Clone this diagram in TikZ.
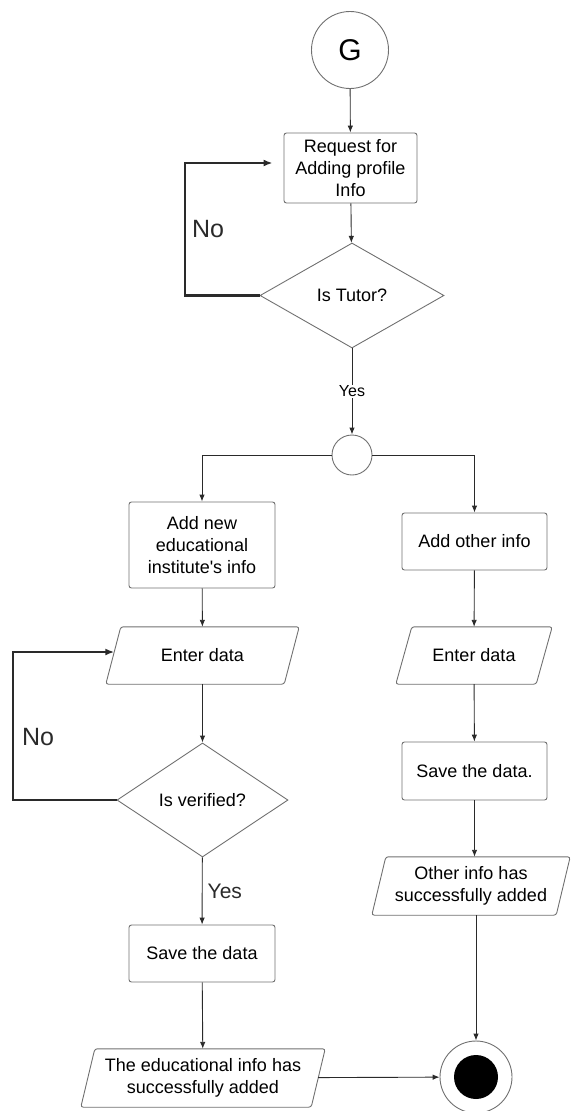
\documentclass[tikz,border=0pt]{standalone}
\usepackage{fontspec}
\setmainfont{Liberation Sans}
\usetikzlibrary{shapes.geometric,arrows.meta,calc}

\definecolor{outline}{HTML}{707070}
\definecolor{wire}{HTML}{2A2A2A}

\tikzset{
  shapeline/.style={draw=outline, line width=0.9pt},
  bodytext/.style={font=\fontsize{18}{21.7}\selectfont, align=center},
  procbox/.style={shapeline, bodytext, rectangle, rounded corners=2.5pt, inner sep=0pt},
  iobox/.style={bodytext, rectangle, inner sep=0pt},
  decision/.style={shapeline, bodytext, diamond, inner sep=0pt},
  startnode/.style={shapeline, circle, minimum size=77pt, inner sep=0pt, font=\fontsize{30}{30}\selectfont},
  junction/.style={shapeline, circle, minimum size=40pt, inner sep=0pt},
  endring/.style={shapeline, circle, minimum size=72pt, inner sep=0pt},
  enddot/.style={circle, fill=black, minimum size=44pt, inner sep=0pt},
  conn/.style={draw=wire, line width=0.9pt, -{Latex[length=7pt,width=5.5pt]}},
  backloop/.style={draw=wire, line width=2.4pt, -{Latex[length=9pt,width=7pt]}},
  nolabel/.style={font=\fontsize{25}{25}\selectfont, text=wire, inner sep=0pt},
  yeslabel/.style={font=\fontsize{16}{16}\selectfont, inner sep=1pt},
  yesbig/.style={font=\fontsize{21}{21}\selectfont, text=wire, inner sep=0pt},
}

% slanted input/output outline around a text node; #2 = horizontal slant
\newcommand\ioframe[2]{%
  \draw[shapeline, rounded corners=2.5pt]
    ($(#1.south west)+(-#2/2,0)$) -- ($(#1.north west)+(#2/2,0)$) --
    ($(#1.north east)+(#2/2,0)$) -- ($(#1.south east)+(-#2/2,0)$) -- cycle;}

\begin{document}
\begin{tikzpicture}[x=1pt,y=-1pt]
\useasboundingbox (0,0) rectangle (571,1111);

% main column
\node[startnode] (G) at (350,50) {G};
\node[procbox, minimum width=133pt, minimum height=70pt] (req) at (350.5,168) {Request for\\Adding profile\\Info};
\node[decision, minimum width=184pt, minimum height=105pt] (tutor) at (352,295.5) {Is Tutor?};
\node[junction] (fork) at (352,455) {};

% educational branch
\node[procbox, minimum width=146pt, minimum height=86pt] (addEdu) at (202,545) {Add new\\educational\\institute\textquotesingle s info};
\node[iobox, minimum width=178pt, minimum height=57pt] (enterEdu) at (202.5,655.5) {Enter data};
\ioframe{enterEdu}{15}
\node[decision, minimum width=171pt, minimum height=114pt] (verified) at (202.5,800) {Is verified?};
\node[procbox, minimum width=146pt, minimum height=57pt] (saveEdu) at (202,953.5) {Save the data};
\node[iobox, minimum width=230pt, minimum height=58pt] (doneEdu) at (203,1078) {The educational info has\\successfully added};
\ioframe{doneEdu}{14}

% other-info branch
\node[procbox, minimum width=145pt, minimum height=57pt] (addOther) at (474.5,541.5) {Add other info};
\node[iobox, minimum width=140pt, minimum height=57pt] (enterOther) at (474,655.5) {Enter data};
\ioframe{enterOther}{16}
\node[procbox, minimum width=145pt, minimum height=58pt] (saveOther) at (474.5,771) {Save the data.};
\node[iobox, minimum width=184pt, minimum height=58pt] (doneOther) at (471,886) {Other info has\\successfully added};
\ioframe{doneOther}{14}

% final state
\node[endring] (end) at (476,1077) {};
\node[enddot] (endDot) at (end) {};

% labels
\node[nolabel] (no1) at (208,229) {No};
\node[nolabel] (no2) at (38,737) {No};

% loop-back corners
\coordinate (loopTop) at (185,163);
\coordinate (loopLow) at (13,652);

% connectors
\draw[conn] (G) -- (req);
\draw[conn] (req) -- (tutor);
\draw[backloop, shorten >=11pt] (tutor.west) -| (loopTop) -- (loopTop -| req.west);
\draw[conn] (tutor) -- node[yeslabel, fill=white] (yes1) {Yes} (fork);
\draw[conn] (fork.west) -| (addEdu.north);
\draw[conn] (fork.east) -| (addOther.north);

\draw[conn] (addEdu) -- (enterEdu);
\draw[conn] (enterEdu) -- (verified);
\draw[backloop] (verified.west) -| (loopLow) -- ($(loopLow -| enterEdu.west)+(1,0)$);
\draw[conn] (verified) -- node[yesbig, right=5pt] (yes2) {Yes} (saveEdu);
\draw[conn] (saveEdu) -- (doneEdu);
\draw[conn] (doneEdu) -- (end);

\draw[conn] (addOther) -- (enterOther);
\draw[conn] (enterOther) -- (saveOther);
\draw[conn] (saveOther) -- (saveOther |- doneOther.north);
\draw[conn] (end |- doneOther.south) -- (end.north);
\end{tikzpicture}
\end{document}
